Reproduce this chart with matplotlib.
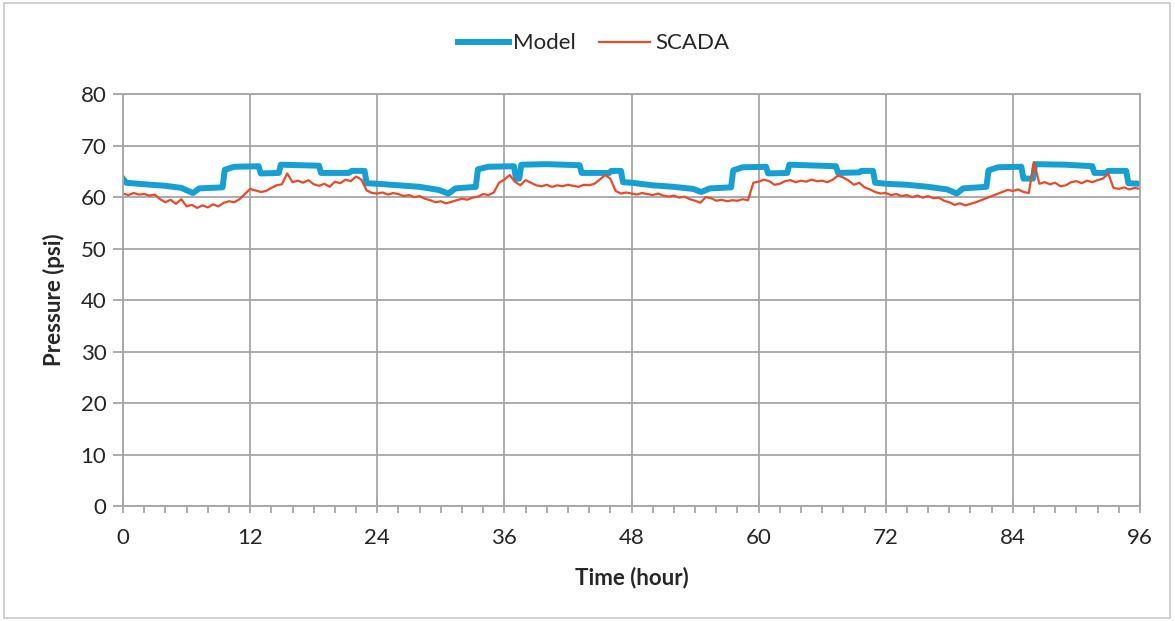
import numpy as np
import matplotlib
matplotlib.use("Agg")
import matplotlib.pyplot as plt
from matplotlib.patches import Rectangle
from matplotlib.ticker import MultipleLocator

plt.rcParams['font.family'] = ['Lato', 'DejaVu Sans']

# Model: breakpoints (hour, psi) of the stepped simulated pressure
model_hours = [0, 0.3, 2, 4, 5.5, 6.6, 7.2, 9.4, 9.6, 10.5, 12.8, 13.0, 14.7, 14.9, 18.5, 18.7,
               21.3, 21.6, 22.8, 23.0,
               24, 26, 28, 29.8, 30.7, 31.4, 33.3, 33.5, 34.5, 36.9, 37.1, 37.4, 37.6, 40, 43.1,
               43.3, 45.9, 46.1, 47.0, 47.2,
               48, 50, 52, 53.8, 54.6, 55.4, 57.4, 57.6, 58.5, 60.7, 60.9, 62.7, 62.9, 67.3, 67.5,
               69.5, 69.7, 70.8, 71.0,
               72, 74, 76, 77.8, 78.7, 79.3, 81.5, 81.7, 82.6, 84.8, 85.0, 85.9, 86.1, 89, 91.5,
               91.7, 92.8, 93.0, 94.7, 94.9, 96]
model_psi = [63.6, 62.8, 62.5, 62.2, 61.8, 60.8, 61.7, 61.9, 65.3, 65.9, 66.0, 64.6, 64.7, 66.3, 66.1, 64.7,
             64.7, 65.1, 65.1, 62.7,
             62.6, 62.3, 62.0, 61.4, 60.7, 61.7, 62.0, 65.4, 65.9, 66.0, 63.6, 63.6, 66.3, 66.4, 66.2,
             64.7, 64.7, 65.1, 65.1, 62.9,
             62.8, 62.3, 62.0, 61.6, 61.0, 61.7, 61.9, 65.2, 65.8, 65.9, 64.6, 64.7, 66.3, 66.0, 64.7,
             64.8, 65.1, 65.1, 62.8,
             62.6, 62.4, 62.0, 61.5, 60.7, 61.7, 62.0, 65.2, 65.8, 65.9, 63.6, 63.6, 66.4, 66.3, 66.0,
             64.7, 64.7, 65.1, 65.1, 62.7, 62.6]

# SCADA: measured pressure every half hour
scada_hours = np.arange(0, 96.01, 0.5)
scada_psi = [
    60.7, 60.4, 60.8, 60.5, 60.6, 60.3, 60.5, 59.6, 59.0, 59.5, 58.7, 59.6,
    58.2, 58.5, 57.9, 58.4, 58.0, 58.6, 58.2, 58.9, 59.2, 59.0, 59.6, 60.6,
    61.6, 61.3, 61.0, 61.2, 61.8, 62.3, 62.5, 64.6, 62.9, 63.2, 62.8, 63.3,
    62.5, 62.2, 62.6, 62.0, 63.0, 62.7, 63.4, 63.1, 64.0, 63.4, 61.3, 60.8,
    60.7, 60.9, 60.5, 60.8, 60.6, 60.2, 60.4, 60.0, 60.2, 59.7, 59.4, 59.0,
    59.2, 58.8, 59.1, 59.4, 59.7, 59.5, 59.9, 60.1, 60.6, 60.4, 60.9, 62.8,
    63.4, 64.3, 63.0, 62.3, 63.3, 62.8, 62.3, 62.1, 62.4, 62.0, 62.3, 62.1,
    62.4, 62.2, 62.0, 62.4, 62.3, 62.6, 63.4, 64.3, 63.6, 61.2, 60.7, 60.9,
    60.7, 60.5, 60.8, 60.6, 60.4, 60.7, 60.3, 60.1, 60.3, 59.9, 60.1, 59.6,
    59.3, 58.9, 60.0, 59.8, 59.3, 59.5, 59.2, 59.4, 59.3, 59.6, 59.4, 62.8,
    63.0, 63.4, 63.1, 62.4, 62.6, 63.1, 63.3, 62.9, 63.2, 63.0, 63.4, 63.1,
    63.2, 62.9, 63.4, 64.2, 63.8, 63.2, 62.4, 62.8, 61.9, 61.5, 61.0, 60.7,
    60.8, 60.4, 60.6, 60.2, 60.4, 60.0, 60.3, 59.9, 60.2, 59.8, 59.9, 59.3,
    59.0, 58.5, 58.8, 58.4, 58.7, 59.0, 59.4, 59.8, 60.2, 60.6, 61.0, 61.4,
    61.2, 61.5, 61.0, 60.8, 66.8, 62.6, 62.9, 62.5, 62.8, 62.1, 62.3, 62.9,
    63.1, 62.7, 63.2, 62.9, 63.3, 63.6, 64.6, 61.8, 61.6, 61.9, 61.5, 61.8,
    61.6,
]

fig = plt.figure(figsize=(11.75, 6.21), dpi=100)
ax = fig.add_axes([0.1047, 0.185, 0.8655, 0.6634])

ax.plot(model_hours, model_psi, color='#159fd3', lw=4.3, label='Model', solid_joinstyle='round')
ax.plot(scada_hours, scada_psi, color='#ea4a28', lw=1.6, label='SCADA')

ax.set_xlim(0, 96)
ax.set_ylim(0, 80)
ax.xaxis.set_major_locator(MultipleLocator(12))
ax.xaxis.set_minor_locator(MultipleLocator(2))
ax.yaxis.set_major_locator(MultipleLocator(10))
ax.grid(True, which='major', color='#a6a6a6', lw=1.3)
ax.set_axisbelow(True)
for s in ax.spines.values():
    s.set_color('#a6a6a6')
    s.set_linewidth(1.3)
ax.tick_params(axis='x', which='major', direction='inout', length=10, width=1.3, color='#a6a6a6',
               labelsize=16, pad=11, labelcolor='#262626')
ax.tick_params(axis='x', which='minor', direction='out', length=5, width=1.3, color='#a6a6a6')
ax.tick_params(axis='y', which='major', direction='out', length=7, width=1.3, color='#a6a6a6',
               labelsize=16, pad=5, labelcolor='#262626')

ax.set_xlabel('Time (hour)', fontsize=16, fontweight='bold', labelpad=13, color='#262626')
ax.set_ylabel('Pressure (psi)', fontsize=16, fontweight='bold', labelpad=11.5, color='#262626')

fig.legend(loc='center', bbox_to_anchor=(0.505, 0.93), ncol=2, frameon=False, fontsize=16,
           handlelength=2.3, handletextpad=0.2, columnspacing=1.05, labelcolor='#262626')

fig.patches.append(Rectangle((4 / 1175, 3 / 621), 1166 / 1175, 615 / 621, transform=fig.transFigure,
                             fill=False, edgecolor='#c8c8c8', lw=1.2))

fig.savefig('out.png', dpi=100)
